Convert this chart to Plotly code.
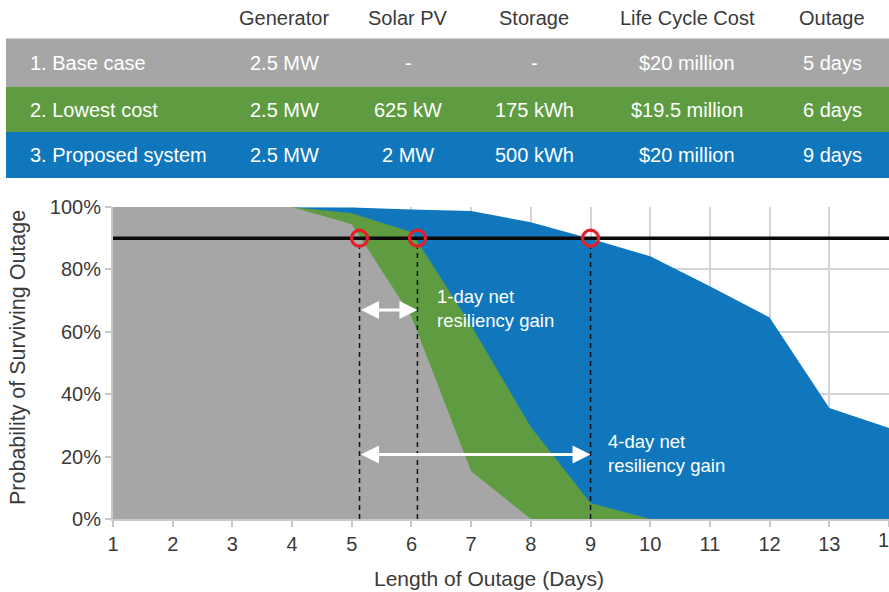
import plotly.graph_objects as go

# ---------------- data ----------------
days = list(range(1, 15))
base_case = [1, 1, 1, 1, 0.945, 0.649, 0.153, 0, 0, 0, 0, 0, 0, 0]
lowest_cost = [1, 1, 1, 1, 0.98, 0.92, 0.62, 0.295, 0.051, 0, 0, 0, 0, 0]
proposed = [1, 1, 1, 1, 0.998, 0.992, 0.987, 0.951, 0.898, 0.842, 0.746, 0.646, 0.356, 0.292]

target = 0.9
crossing_days = [5.13, 6.1, 9.0]
gain_labels = ["1-day net<br>resiliency gain", "4-day net<br>resiliency gain"]
gain_ends = [6.1, 9.0]
gain_y = [0.67, 0.207]

headers = ["Generator", "Solar PV", "Storage", "Life Cycle Cost", "Outage"]
row_labels = ["1. Base case", "2. Lowest cost", "3. Proposed system"]
generator = ["2.5 MW", "2.5 MW", "2.5 MW"]
solar_pv = ["-", "625 kW", "2 MW"]
storage = ["-", "175 kWh", "500 kWh"]
life_cycle_cost = ["$20 million", "$19.5 million", "$20 million"]
outage = ["5 days", "6 days", "9 days"]

# ---------------- style ----------------
GRAY = "#a6a6a6"
GREEN = "#5e9b41"
BLUE = "#1077bd"
TXT = "#3a3a3a"
FONT = "Liberation Sans, Arial, sans-serif"

W, H = 889, 592
L, R, T, B = 113, 0, 207, 73
PW, PH = W - L - R, H - T - B


def px(x):
    return (x - L) / PW


def py(y):
    return (H - B - y) / PH


fig = go.Figure()

for vals, col in [(proposed, BLUE), (lowest_cost, GREEN), (base_case, GRAY)]:
    fig.add_trace(go.Scatter(x=days, y=vals, mode="lines", fill="tozeroy",
                             fillcolor=col, line=dict(width=0, color=col),
                             hoverinfo="skip", showlegend=False))

# target line
fig.add_trace(go.Scatter(x=[days[0], days[-1]], y=[target, target], mode="lines",
                         line=dict(color="#0a0a0a", width=3.5), showlegend=False))

# dashed drop lines
for d in crossing_days:
    fig.add_trace(go.Scatter(x=[d, d], y=[0, target - 0.025], mode="lines",
                             line=dict(color="#111111", width=1.5, dash="5px,4px"),
                             showlegend=False))

# red circles
fig.add_trace(go.Scatter(x=crossing_days, y=[target] * len(crossing_days), mode="markers",
                         marker=dict(symbol="circle-open", size=16, color="#e3202a",
                                     line=dict(width=3.2, color="#e3202a")),
                         showlegend=False))

annotations = []
# gain arrows + labels
label_pos = [(6.39, 0.675), (9.26, 0.2115)]
for end, yv, lab, (lx, ly) in zip(gain_ends, gain_y, gain_labels, label_pos):
    annotations.append(dict(x=end, y=yv, ax=crossing_days[0], ay=yv, xref="x", yref="y",
                            axref="x", ayref="y", text="", showarrow=True,
                            arrowside="end+start", arrowhead=2, arrowsize=1.2,
                            arrowwidth=3, arrowcolor="white", standoff=0, startstandoff=0))
    annotations.append(dict(x=lx, y=ly, xref="x", yref="y", text=lab, showarrow=False,
                            xanchor="left", yanchor="middle", align="left",
                            font=dict(family=FONT, size=18.5, color="white")))

# last tick label, cut by the right edge as in the reference
annotations.append(dict(x=days[-1], y=py(540), xref="x", yref="paper", text=str(days[-1]),
                        showarrow=False, xanchor="center", yanchor="middle",
                        font=dict(family=FONT, size=20, color=TXT)))

# table
row_colors = [GRAY, GREEN, BLUE]
row_bounds = [(38.5, 87), (87, 132), (132, 178)]
col_x = [284, 408, 534, 687, 832]
shapes = []
for (y0, y1), c in zip(row_bounds, row_colors):
    shapes.append(dict(type="rect", xref="paper", yref="paper", x0=px(6), x1=px(W + 2),
                       y0=py(y1), y1=py(y0), fillcolor=c, line=dict(width=0), layer="above"))

for h, cx in zip(headers, col_x):
    annotations.append(dict(x=px(cx), y=py(18), xref="paper", yref="paper", text=h,
                            showarrow=False, xanchor="center", yanchor="middle",
                            font=dict(family=FONT, size=20, color=TXT)))

columns = [generator, solar_pv, storage, life_cycle_cost, outage]
for i, lab in enumerate(row_labels):
    yc = (row_bounds[i][0] + row_bounds[i][1]) / 2
    annotations.append(dict(x=px(28), y=py(yc), xref="paper", yref="paper", text=lab,
                            showarrow=False, xanchor="left", yanchor="middle",
                            font=dict(family=FONT, size=20, color="white")))
    for colvals, cx in zip(columns, col_x):
        annotations.append(dict(x=px(cx), y=py(yc), xref="paper", yref="paper",
                                text=colvals[i], showarrow=False, xanchor="center",
                                yanchor="middle",
                                font=dict(family=FONT, size=20, color="white")))

# axis titles
annotations.append(dict(x=px(18), y=py(358), xref="paper", yref="paper",
                        text="Probability of Surviving Outage", textangle=-90,
                        showarrow=False, xanchor="center", yanchor="middle",
                        font=dict(family=FONT, size=21.5, color=TXT)))
annotations.append(dict(x=px(489), y=py(578), xref="paper", yref="paper",
                        text="Length of Outage (Days)", showarrow=False,
                        xanchor="center", yanchor="middle",
                        font=dict(family=FONT, size=21, color=TXT)))

fig.update_layout(
    width=W, height=H, margin=dict(l=L, r=R, t=T, b=B),
    paper_bgcolor="white", plot_bgcolor="white",
    font=dict(family=FONT, size=20, color=TXT),
    showlegend=False, shapes=shapes, annotations=annotations,
    xaxis=dict(range=[1, 14], dtick=1, tick0=1, showgrid=True, gridcolor="#d3d3d8",
               gridwidth=1.5, showline=True, linecolor="#c8c8cc", linewidth=2,
               ticks="outside", ticklen=6, tickcolor="#c8c8cc", tickwidth=1.5,
               zeroline=False, tickfont=dict(family=FONT, size=20, color=TXT)),
    yaxis=dict(range=[0, 1], dtick=0.2, tickformat=".0%", showgrid=True,
               gridcolor="#d3d3d8", gridwidth=1.5, showline=True, linecolor="#c8c8cc",
               linewidth=2, ticks="outside", ticklen=6, tickcolor="#c8c8cc",
               tickwidth=1.5, zeroline=False,
               tickfont=dict(family=FONT, size=20, color=TXT)),
)

fig.write_html(
    "out.html",
    config={"displayModeBar": False},
    post_script="document.body.style.margin='0';document.body.style.overflow='hidden';",
)
